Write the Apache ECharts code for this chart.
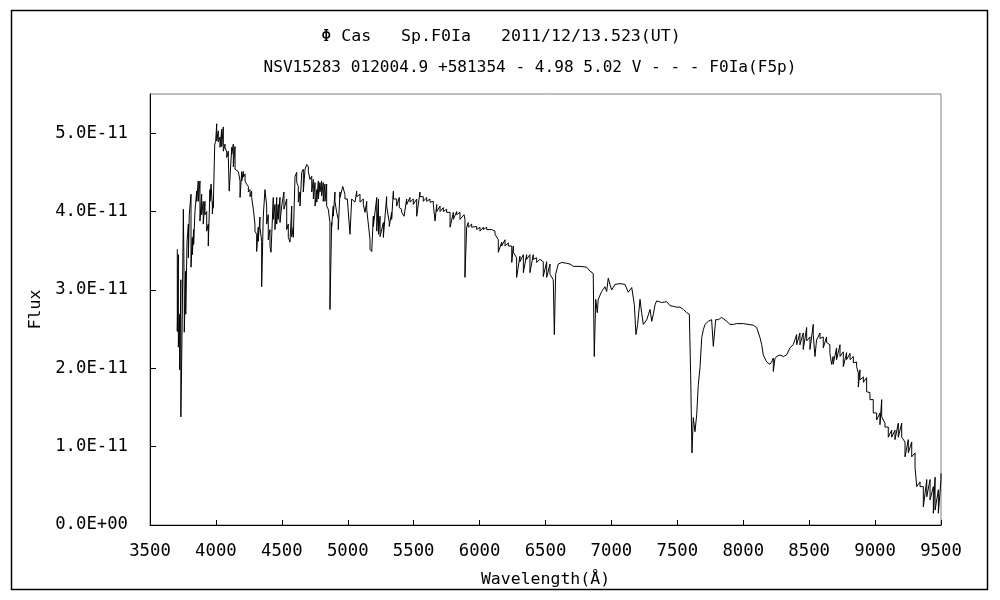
<!DOCTYPE html>
<html>
<head>
<meta charset="utf-8">
<script src="https://cdn.jsdelivr.net/npm/echarts@6/dist/echarts.min.js"></script>
<style>html,body{margin:0;padding:0;background:#fff}#c{width:1000px;height:600px}</style>
</head>
<body>
<div id="c"></div>
<script>
// Title lines
const titleLine1 = 'Φ Cas   Sp.F0Ia   2011/12/13.523(UT)';
const titleLine2 = 'NSV15283 012004.9 +581354 - 4.98 5.02 V - - - F0Ia(F5p)';
const xAxisName = 'Wavelength(Å)';
const yAxisName = 'Flux';

// Axis ranges (wavelength in Å, flux in units of 1E-11)
const xTicks = [3500,4000,4500,5000,5500,6000,6500,7000,7500,8000,8500,9000,9500];
const yTicks = [0,1,2,3,4,5];
const yTickLabels = ['0.0E+00','1.0E-11','2.0E-11','3.0E-11','4.0E-11','5.0E-11'];

// Spectrum [wavelength (Å), flux (1E-11)]
const blueSegment = [[3707,3.52],[3707,2.47],[3715,3.45],[3715,2.27],[3725,2.69],[3725,1.98],[3734,3.13],[3734,1.38],[3745,2.69],[3753,4.03],[3760,2.94],[3760,2.46],[3771,3.24],[3771,2.69],[3781,3.62],[3791,3.84],[3791,3.41],[3798,3.96],[3811,4.22],[3811,3.29],[3821,3.67],[3821,3.45],[3831,3.77],[3831,3.58],[3841,4.00],[3854,4.26],[3854,4.13],[3866,4.39],[3866,4.13],[3879,4.39],[3879,3.88],[3892,4.22],[3892,3.96],[3904,4.13],[3904,3.84],[3917,4.13],[3917,3.96],[3930,4.00],[3930,3.75],[3942,3.84],[3942,3.56],[3955,4.28],[3955,4.13],[3963,4.35],[3973,4.07],[3973,3.97],[3980,4.13],[3980,4.05],[3991,4.86],[3998,4.89],[4006,5.12],[4006,4.90],[4018,5.03],[4018,4.89],[4031,4.95],[4031,4.82],[4044,5.05],[4044,4.83],[4056,5.08],[4056,4.77],[4069,4.86],[4069,4.82],[4082,4.76],[4082,4.69],[4094,4.77],[4094,4.69],[4101,4.26],[4112,4.26],[4120,4.82],[4120,4.73],[4132,4.86],[4132,4.57],[4145,4.83],[4145,4.54],[4158,4.54],[4170,4.51],[4183,4.39],[4183,4.18],[4196,4.51],[4196,4.39],[4208,4.51],[4208,4.44],[4221,4.48],[4221,4.39],[4233,4.35],[4246,4.32],[4246,4.25],[4259,4.28],[4259,4.19],[4271,4.26],[4271,4.18],[4284,4.18],[4284,4.03],[4296,3.84],[4296,3.75],[4309,3.71],[4309,3.49],[4321,3.80],[4321,3.62],[4334,3.93],[4334,3.80],[4347,3.62],[4347,3.04],[4359,3.93],[4372,4.28],[4385,4.07],[4385,3.84],[4397,3.96],[4397,3.64],[4410,3.77],[4410,3.56],[4418,3.48],[4435,4.18],[4435,3.90],[4448,4.09],[4448,3.77],[4461,4.18],[4461,3.84],[4473,4.09],[4473,3.90],[4486,4.18],[4486,3.86],[4499,4.07]];

const greenSegment = [[4516,4.25],[4516,4.03],[4537,4.16],[4537,3.77],[4549,3.84],[4549,3.67],[4562,3.61],[4575,4.07],[4575,3.68],[4587,3.80],[4587,3.67],[4600,4.45],[4613,4.50],[4613,4.37],[4625,4.32],[4625,4.12],[4638,4.25],[4638,4.07],[4651,4.50],[4663,4.54],[4663,4.25],[4676,4.54],[4689,4.60],[4701,4.57],[4701,4.51],[4714,4.50],[4714,4.41],[4727,4.45],[4727,4.25],[4739,4.41],[4739,4.16],[4752,4.37],[4752,4.07],[4765,4.28],[4765,4.12],[4777,4.39],[4777,4.16],[4789,4.37],[4789,4.25],[4802,4.39],[4802,4.20],[4814,4.37],[4814,4.13],[4827,4.35],[4827,4.13],[4840,4.35],[4840,4.07],[4852,4.07],[4852,4.03],[4865,3.86],[4865,2.75],[4878,3.86],[4878,3.81],[4890,4.07],[4890,3.94],[4903,4.25],[4903,4.13],[4916,4.12],[4916,3.99],[4928,3.90],[4928,3.77],[4941,4.25],[4941,4.18],[4962,4.32],[4979,4.22],[4979,4.16],[4997,4.16],[5017,3.71],[5030,4.16],[5055,4.12],[5068,4.26],[5068,4.19],[5093,4.22],[5093,4.12],[5118,4.16],[5118,4.09],[5131,3.99],[5144,4.13],[5144,4.03],[5169,3.64],[5169,3.52],[5182,3.49],[5194,3.94],[5194,3.81],[5220,4.18],[5220,3.75],[5233,4.16],[5233,3.71],[5245,3.94],[5245,3.68],[5270,3.86],[5270,3.67],[5295,4.19],[5295,4.07],[5315,3.86],[5315,3.81],[5333,3.99],[5333,3.90],[5346,4.26],[5346,4.16],[5371,4.16],[5371,4.07],[5391,4.18],[5391,4.05],[5409,4.03],[5409,3.99],[5427,3.94],[5447,4.16],[5447,4.09],[5472,4.18],[5472,4.12],[5497,4.16],[5497,4.09]];

const redSegment = [[5523,4.16],[5523,3.94],[5548,4.25],[5548,4.19],[5573,4.19],[5573,4.13],[5599,4.18],[5599,4.13],[5624,4.16],[5624,4.12],[5649,4.13],[5649,4.09],[5662,4.07],[5662,3.88],[5675,4.09],[5675,4.00],[5700,4.07],[5700,4.00],[5725,4.05],[5725,4.00],[5750,4.03],[5750,3.99],[5776,3.99],[5776,3.80],[5801,3.99],[5801,3.90],[5826,4.00],[5826,3.96],[5851,3.99],[5851,3.90],[5882,3.96],[5889,3.90],[5889,3.16],[5902,3.80],[5914,3.86],[5914,3.80],[5940,3.84],[5940,3.80],[5978,3.81],[5978,3.77],[6003,3.80],[6003,3.75],[6028,3.80],[6028,3.77],[6054,3.80],[6054,3.77],[6092,3.77],[6117,3.75],[6117,3.71],[6142,3.64],[6142,3.48],[6168,3.61],[6168,3.56],[6193,3.64],[6193,3.56],[6218,3.60],[6218,3.56],[6244,3.56],[6244,3.35],[6256,3.56],[6256,3.48],[6281,3.41],[6281,3.16],[6306,3.43],[6306,3.36],[6332,3.45],[6332,3.22],[6357,3.45],[6357,3.39],[6382,3.45],[6382,3.22],[6407,3.45],[6407,3.39],[6433,3.41],[6433,3.35],[6458,3.39],[6483,3.36],[6483,3.17],[6509,3.36],[6509,3.16],[6534,3.33],[6534,3.20],[6559,3.13],[6567,2.43],[6577,3.20],[6597,3.33],[6623,3.35],[6661,3.34],[6686,3.33],[6711,3.30],[6762,3.30],[6812,3.29],[6837,3.24],[6862,3.21],[6870,2.15],[6881,2.88],[6893,2.71],[6900,2.88],[6926,2.98],[6951,3.04],[6964,2.98],[6976,3.15],[6989,3.07],[7002,3.00],[7027,3.07],[7065,3.08],[7103,3.07],[7128,2.97],[7154,3.03],[7174,2.81],[7186,2.43],[7199,2.56],[7217,2.88],[7229,2.71],[7242,2.56],[7268,2.62],[7293,2.75],[7306,2.60],[7318,2.69],[7331,2.81],[7343,2.86],[7381,2.84],[7419,2.85],[7444,2.80],[7470,2.79],[7495,2.78]];

const nirSegment = [[7520,2.78],[7546,2.75],[7571,2.71],[7591,2.69],[7601,1.92],[7611,0.92],[7621,1.37],[7634,1.19],[7647,1.41],[7659,1.79],[7672,2.01],[7685,2.39],[7697,2.49],[7710,2.56],[7735,2.60],[7760,2.62],[7773,2.28],[7791,2.62],[7811,2.62],[7836,2.65],[7874,2.60],[7899,2.56],[7925,2.56],[7950,2.57],[8000,2.57],[8076,2.55],[8102,2.52],[8127,2.39],[8140,2.30],[8152,2.17],[8178,2.08],[8203,2.05],[8215,2.08],[8228,2.13],[8228,1.96],[8240,2.12],[8253,2.15],[8279,2.17],[8304,2.15],[8329,2.17],[8354,2.26],[8379,2.30],[8405,2.43],[8405,2.30],[8430,2.45],[8430,2.30],[8455,2.45],[8455,2.24],[8481,2.52],[8481,2.35],[8506,2.40],[8506,2.24],[8531,2.56],[8531,2.43],[8544,2.15],[8556,2.36],[8582,2.45],[8582,2.38],[8607,2.40],[8607,2.26],[8632,2.40],[8632,2.33],[8657,2.30],[8657,2.20],[8670,2.05],[8682,2.15],[8682,2.05],[8708,2.26],[8708,2.11],[8734,2.30],[8734,2.15],[8759,2.21],[8759,2.02],[8784,2.20],[8784,2.11],[8810,2.19],[8810,2.11],[8835,2.15],[8835,2.07],[8860,2.08],[8860,2.02],[8873,1.94],[8873,1.76],[8885,1.98],[8885,1.85],[8911,1.89],[8911,1.82],[8936,1.88],[8936,1.70],[8961,1.69],[8961,1.60],[8986,1.60],[8986,1.43],[9012,1.43],[9012,1.34],[9037,1.43],[9037,1.28],[9050,1.60],[9050,1.38],[9075,1.30],[9075,1.25],[9100,1.25],[9100,1.12],[9126,1.21],[9126,1.12],[9151,1.21],[9151,1.09],[9176,1.30],[9176,1.12],[9202,1.30],[9202,1.12],[9227,1.06],[9227,0.87],[9252,1.09],[9252,0.92],[9278,1.06],[9278,0.87],[9303,0.92],[9303,0.74],[9316,0.74],[9316,0.49],[9341,0.55],[9341,0.49],[9366,0.49],[9366,0.23],[9392,0.58],[9392,0.36],[9417,0.58],[9417,0.32],[9442,0.49],[9442,0.15],[9455,0.61],[9455,0.19],[9480,0.45],[9480,0.15],[9500,0.58],[9500,0.66]];

const spectrum = blueSegment.concat(greenSegment, redSegment, nirSegment);

const FONT = '"DejaVu Sans Mono", "Liberation Mono", monospace';
const chart = echarts.init(document.getElementById('c'), null, {renderer: 'canvas'});
chart.setOption({
  animation: false,
  backgroundColor: '#fff',
  textStyle: {fontFamily: FONT},
  grid: {left: 150, right: 59, top: 94, bottom: 75, show: true, borderColor: '#808080', borderWidth: 1, backgroundColor: 'transparent'},
  graphic: [
    {type: 'rect', shape: {x: 11.5, y: 10.5, width: 976, height: 579}, style: {fill: 'none', stroke: '#000', lineWidth: 1.5}, silent: true, z: 0},
    {type: 'text', x: 501, y: 37, style: {text: titleLine1, font: '16.6px ' + FONT, fill: '#000', textAlign: 'center', textVerticalAlign: 'middle'}},
    {type: 'text', x: 530, y: 68, style: {text: titleLine2, font: '16.1px ' + FONT, fill: '#000', textAlign: 'center', textVerticalAlign: 'middle'}}
  ],
  xAxis: {
    type: 'value', min: xTicks[0], max: xTicks[xTicks.length - 1], interval: 500,
    name: xAxisName, nameLocation: 'middle', nameGap: 46,
    nameTextStyle: {fontFamily: FONT, fontSize: 16.5, color: '#000'},
    axisLine: {show: true, onZero: false, lineStyle: {color: '#000', width: 1}},
    axisTick: {show: true, inside: true, length: 5, lineStyle: {color: '#000'}},
    axisLabel: {fontFamily: FONT, fontSize: 17.3, color: '#000', margin: 18, formatter: function (v) { return String(v); }},
    splitLine: {show: false}
  },
  yAxis: {
    type: 'value', min: 0, max: 5.5, interval: 1,
    name: yAxisName, nameLocation: 'middle', nameGap: 105, nameRotate: 90,
    nameTextStyle: {fontFamily: FONT, fontSize: 16.5, color: '#000'},
    axisLine: {show: true, lineStyle: {color: '#000', width: 1}},
    axisTick: {show: true, inside: true, length: 6, lineStyle: {color: '#000'}},
    axisLabel: {
      fontFamily: FONT, fontSize: 17.3, color: '#000', margin: 22, showMaxLabel: false,
      formatter: function (v) { const i = yTicks.indexOf(v); return i >= 0 ? yTickLabels[i] : ''; }
    },
    splitLine: {show: false}
  },
  series: [{
    type: 'line', data: spectrum, showSymbol: false, symbol: 'none',
    lineStyle: {color: '#000', width: 1}, clip: true, z: 3
  }]
});
</script>
</body>
</html>
